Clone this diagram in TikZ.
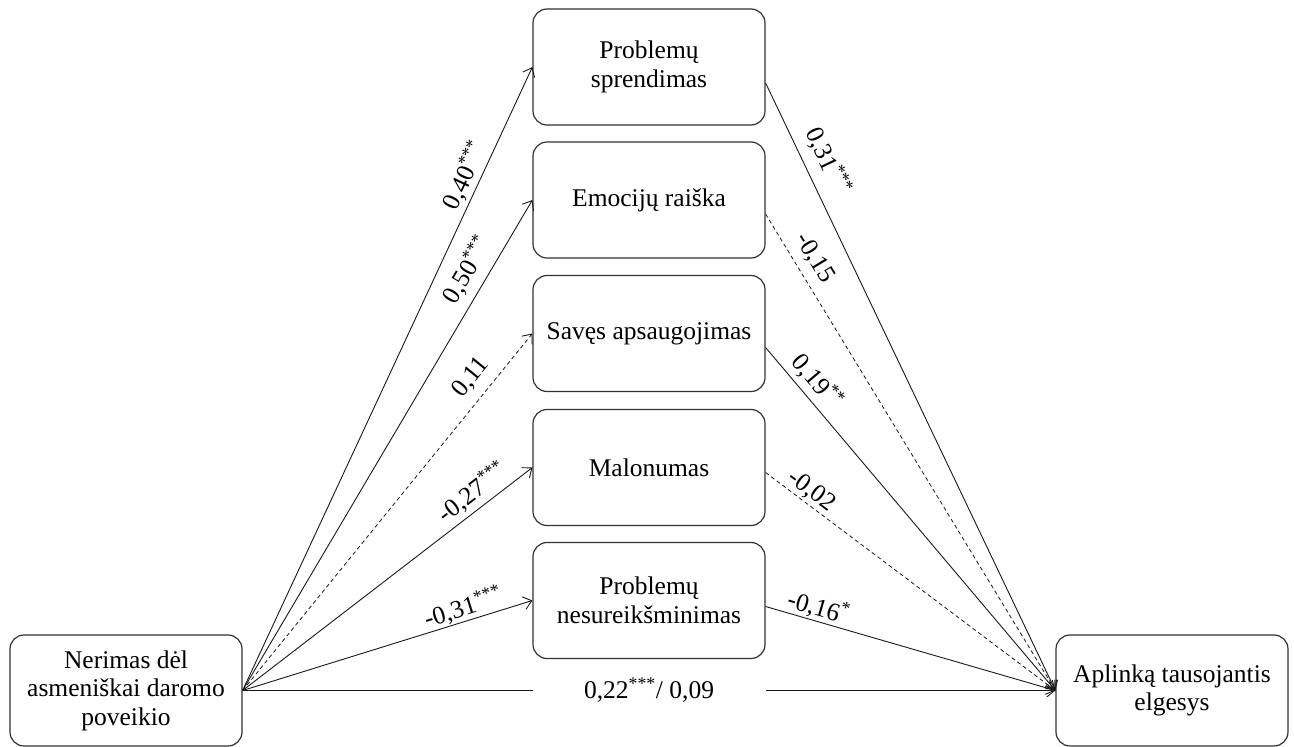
\documentclass[tikz,border=0pt]{standalone}
\usepackage{fontspec}
\setmainfont{Liberation Serif}
\usetikzlibrary{arrows.meta}
\begin{document}
\begin{tikzpicture}[x=1pt,y=-1pt,
  font=\fontsize{25.5}{28.5}\selectfont,
  box/.style={draw=black!80, line width=1.2pt, rounded corners=14pt,
    minimum width=232pt, minimum height=116pt, align=center, inner sep=0pt},
  conn/.style={line width=0.9pt, draw=black!90,
    -{Straight Barb[length=8pt,width=13pt,line width=0.9pt]}},
  dsh/.style={dash pattern=on 4pt off 3pt, line width=0.8pt},
  lbl/.style={sloped, inner sep=1pt}]
\useasboundingbox (0,0) rectangle (1294,747);

\node[box, minimum height=111pt] (src) at (126,690.5) {Nerimas dėl\\asmeniškai daromo\\poveikio};
\node[box, minimum height=111pt] (dst) at (1172,690.5) {Aplinką tausojantis\\elgesys};

\node[box] (m1) at (649,67)    {Problemų\\sprendimas};
\node[box] (m2) at (649,200)   {Emocijų raiška};
\node[box] (m3) at (649,333.5) {Savęs apsaugojimas};
\node[box] (m4) at (649,467.5) {Malonumas};
\node[box] (m5) at (649,600.5) {Problemų\\nesureikšminimas};

% source -> mediators
\draw[conn] (src.east) -- (m1.west)
  node[lbl, pos=0.815, above=2pt] {0,40\textsuperscript{***}};
\draw[conn] (src.east) -- (m2.west)
  node[lbl, pos=0.836, above=7pt] {0,50\textsuperscript{***}};
\draw[conn, dsh] (src.east) -- (m3.west)
  node[lbl, pos=0.841, above=8pt] {0,11};
\draw[conn] (src.east) -- (m4.west)
  node[lbl, pos=0.829, above=3pt] {-0,27\textsuperscript{***}};
\draw[conn] (src.east) -- (m5.west)
  node[lbl, pos=0.775, above=0pt] {-0,31\textsuperscript{***}};

% mediators -> outcome
\draw[conn] ([yshift=-16pt]m1.east) -- (dst.west)
  node[lbl, pos=0.145, above=9pt] {0,31\textsuperscript{***}};
\draw[conn, dsh] ([yshift=-14pt]m2.east) -- (dst.west)
  node[lbl, pos=0.113, above=7pt] {-0,15};
\draw[conn] ([yshift=-14pt]m3.east) -- (dst.west)
  node[lbl, pos=0.132, above=4pt] {0,19\textsuperscript{**}};
\draw[conn, dsh] ([yshift=-5pt]m4.east) -- (dst.west)
  node[lbl, pos=0.132, above=1pt] {-0,02};
\draw[conn] ([yshift=-6pt]m5.east) -- (dst.west)
  node[lbl, pos=0.169, above=0pt] {-0,16\textsuperscript{*}};

% direct effect
\draw[conn] (src.east) -- (dst.west)
  node[pos=0.5, fill=white, minimum width=233pt, inner sep=2pt] {0,22\textsuperscript{***}/ 0,09};
\end{tikzpicture}
\end{document}
